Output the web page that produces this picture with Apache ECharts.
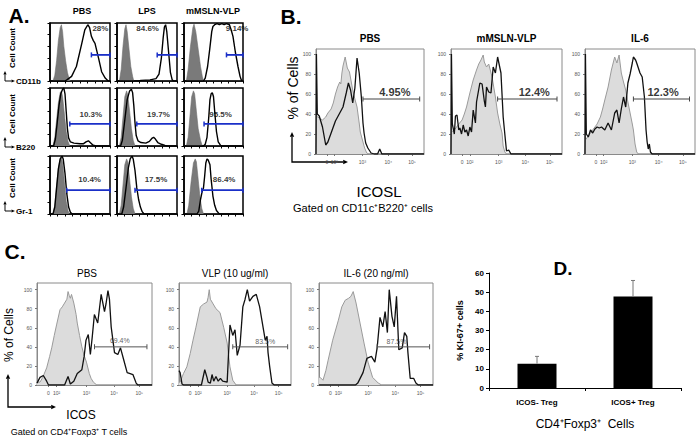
<!DOCTYPE html>
<html><head><meta charset="utf-8">
<script src="https://cdn.jsdelivr.net/npm/echarts@6/dist/echarts.min.js"></script>
<style>html,body{margin:0;padding:0;background:#fff}#c{width:698px;height:438px}</style>
</head><body><div id="c"></div>
<script>
// ================= DATA =================
// Panel A: flow histograms (x: fluorescence, 0-100 relative; y: % of max)
const A_conditions = ['PBS', 'LPS', 'mMSLN-VLP'];
const A_markers = ['CD11b', 'B220', 'Gr-1'];
// isotype / unstained (grey) histograms, [row][column]
const A_ctrl_CD11b = [
  [[0,0],[5,0],[8,10],[11,35],[14,70],[17,92],[19,97],[21,85],[23,60],[26,35],[29,15],[32,3],[34,0],[100,0]],
  [[0,0],[4,0],[7,20],[10,60],[13,90],[15,97],[17,85],[20,55],[23,25],[26,8],[28,0],[100,0]],
  [[0,0],[4,0],[7,20],[11,60],[15,92],[17,98],[20,85],[24,55],[28,25],[31,8],[33,0],[100,0]]
];
const A_stain_CD11b = [
  [[0,0],[25,0],[28,2],[36,8],[44,25],[53,65],[58,88],[63,97],[66,92],[69,77],[72,70],[75,65],[81,39],[86,16],[92,5],[97,0],[100,0]],
  [[0,0],[35,0],[40,1],[55,2],[65,4],[70,12],[74,40],[77,75],[79,93],[81,97],[83,85],[86,50],[89,15],[92,2],[94,0],[100,0]],
  [[0,0],[33,0],[36,5],[40,25],[43.5,54],[47,85],[49,94],[52,97],[56,99],[60,97],[64,99],[68,97],[72,99],[77,97],[80,88],[83,77],[87,50],[91.5,25],[95,8],[97,2],[99,0],[100,0]]
];
const A_ctrl_B220 = [
  [[0,0],[5,0],[8,15],[11,45],[14,75],[17,92],[19,95],[21,85],[24,55],[27,25],[30,8],[33,0],[100,0]],
  [[0,0],[4,0],[7,15],[10,50],[13,85],[16,95],[18,88],[21,60],[24,30],[27,10],[30,0],[100,0]],
  [[0,0],[4,0],[7,15],[10,50],[13,85],[16,95],[18,90],[21,60],[24,30],[28,10],[31,0],[100,0]]
];
const A_stain_B220 = [
  [[0,0],[6,0],[9,12],[12,40],[15,70],[18,90],[21,98],[23,100],[25,90],[27,60],[29,30],[31,14],[34,7],[40,5],[50,4],[56,4],[60,7],[64,9],[67,6],[71,2],[76,0],[100,0]],
  [[0,0],[6,0],[9,10],[13,45],[17,80],[21,95],[24,98],[26,92],[28,70],[30,40],[32,18],[35,9],[40,6],[48,5],[54,8],[58,13],[61,15],[64,12],[68,6],[74,3],[80,1],[84,0],[100,0]],
  [[0,0],[33,0],[36,3],[39,15],[42,50],[44,80],[46,90],[48,92],[50,85],[52,60],[55,25],[58,7],[62,1],[65,0],[100,0]]
];
const A_ctrl_Gr1 = [
  [[0,0],[5,0],[8,15],[11,50],[14,80],[17,95],[19,97],[21,88],[24,55],[27,22],[30,6],[32,0],[100,0]],
  [[0,0],[4,0],[7,15],[10,50],[13,85],[16,95],[18,90],[21,60],[24,30],[27,10],[30,0],[100,0]],
  [[0,0],[5,0],[8,15],[12,55],[16,88],[19,95],[21,90],[24,60],[27,30],[30,10],[33,0],[100,0]]
];
const A_stain_Gr1 = [
  [[0,0],[5,0],[8,12],[11,45],[14,78],[17,95],[20,100],[22,95],[25,70],[28,35],[31,12],[34,3],[37,0],[100,0]],
  [[0,0],[8,0],[11,12],[15,45],[19,80],[22,95],[25,100],[27,95],[30,75],[33,45],[36,25],[39,12],[42,4],[45,0],[100,0]],
  [[0,0],[22,0],[25,5],[28,25],[31,40],[33,45],[35,65],[37,88],[39,95],[41,93],[44,85],[46,60],[49,31],[52,15],[55,6],[59,1],[62,0],[100,0]]
];
const A_gate_start = [[69, 67, 72], [33, 33, 34], [28, 30, 30]];
const A_gate_level = [45, 38, 41];
const A_pct = [['28%', '84.6%', '9.14%'], ['10.3%', '19.7%', '95.5%'], ['10.4%', '17.5%', '86.4%']];
const A_pct_pos = [[[84, 91], [51, 91], [90, 91]], [[68, 54], [69, 54], [62, 54]], [[66, 60], [65, 60], [68, 60]]];

// Panel B: ICOSL on CD11c+B220+ cells
const B_conditions = ['PBS', 'mMSLN-VLP', 'IL-6'];
const B_ctrl = [
  [[0,0],[0.3,38],[3,36],[6,34],[9,37],[11,41],[14,45],[16,51],[18,60],[20,67],[22,72],[23,70],[24,81],[25,88],[27,97],[29,86],[31,82],[34,64],[36,55],[38,47],[40,31],[41,22],[43,14],[45,6],[47,1],[49,0],[100,0]],
  [[0,0],[0.3,22],[3,24],[7,30],[10,34],[12,40],[14,47],[17,61],[20,74],[23,84],[25,90],[27,94],[29,99],[30,92],[32,87],[34,90],[37,77],[40,57],[42,41],[44,30],[46,21],[47,8],[48.5,2],[50,0],[100,0]],
  [[0,0],[0.3,14],[3,18],[7,24],[11,30],[14,37],[16,45],[18,54],[21,67],[24,84],[27,97],[29,91],[31,99],[33,81],[35,72],[37,64],[39,52],[41,41],[43,30],[44,24],[45.5,10],[47,2],[48.5,0],[100,0]]
];
const B_stain = [
  [[0,0],[0.4,100],[1.2,40],[3,38],[6,27],[8,15],[9,9],[11,12],[15,24],[18,33],[22,41],[25,47],[28,61],[30,71],[32,64],[34,51],[36,66],[38,96],[40,81],[42,57],[43.5,31],[44.5,21],[46,11],[48,6],[51,1],[54,0],[57,0],[59,5],[61,0],[100,0]],
  [[0,0],[0.4,100],[1.2,30],[3,20],[4,38],[5.4,39],[7,24],[8,26],[9.5,20],[11,29],[12.5,22],[14,24],[15.5,18],[17,27],[18.5,22],[20,44],[22,31],[23,52],[26,71],[28,70],[30,53],[31,47],[32,67],[34,62],[36,61],[38,87],[40,81],[42,97],[45,81],[47,37],[49,14],[50,3],[52,4],[54,0],[100,0]],
  [[0,0],[0.4,100],[1.2,20],[3,17],[5,24],[7,21],[9,25],[11,27],[13,26],[15,27],[18,24],[21,31],[24,24],[27,41],[29,44],[31,31],[33,45],[35,57],[37,47],[39,71],[41,80],[43,91],[44,97],[46,94],[47,91],[50,81],[52,77],[54,57],[55.5,24],[56.5,12],[57.5,5],[58.5,10],[59.5,2],[61,0],[100,0]]
];
const B_gate = [[43.5, 96], [42, 95.5], [44, 95]];
const B_gate_level = 55;
const B_pct = ['4.95%', '12.4%', '12.3%'];
const B_pct_pos = [[73, 62], [75, 62], [71, 62]];

// Panel C: ICOS on CD4+Foxp3+ T cells
const C_conditions = ['PBS', 'VLP (10 ug/ml)', 'IL-6 (20 ng/ml)'];
const C_ctrl = [
  [[0,3],[2.6,3],[5,8],[8.4,18],[11,30],[12.8,39],[15,52],[17,63],[20,79],[22,82],[24,86],[26,90],[27,98],[28,94],[29,91],[30,95],[32,86],[34,74],[35,65],[37,52],[39,40],[41,31],[43,24],[45.5,12],[47,7],[49,3],[52,0],[100,0]],
  [[0,3],[1,3],[4,12],[7,19],[10,33],[12.5,47],[15,60],[19,82],[22,85],[25,87],[26,92],[27,100],[28,90],[30,86],[33,80],[36.6,76],[40,60],[43,44],[45.5,19],[48,5],[51,0],[100,0]],
  [[0,8],[1,8],[3.5,5],[6,15],[8,26],[12,47],[17,68],[20,82],[23,89],[26,91],[28,93],[30,98],[32.5,86],[36,65],[39.5,44],[43,24],[47,8],[52,2],[55,0],[100,0]]
];
const C_stain = [
  [[0,2],[2.6,8],[5.5,10],[8.4,4],[10,0],[24,0],[27,9],[29,1],[32,4],[35,12],[39,16],[41,30],[42.6,47],[44.6,53],[46.4,32],[48,50],[49.9,74],[52.8,65],[55.8,95],[58.7,77],[60,85],[61.7,99],[63,90],[64.5,61],[67.4,34],[70.3,32],[72.6,39],[75.5,26],[78.4,13],[81,12],[83.4,11],[86.2,2],[87.7,0],[100,0]],
  [[0,15],[1,13],[2.7,1],[4,0],[20,0],[23,16],[25,8],[26,3],[28,2],[29.5,11],[31,4],[33,9],[35,4],[37,7],[39,4],[43,3],[45.5,63],[48,52],[50,58],[52,31],[54.5,42],[57,82],[59,90],[61,100],[63,88],[66,93],[69,95],[72,82],[75,61],[77,47],[78.6,51],[79.5,34],[81,19],[83,2],[85,0],[100,0]],
  [[0,0],[32,0],[34,2],[38.6,13],[42,28],[44,29],[46,30],[49,24],[51,39],[53.5,71],[56,61],[58,77],[60,55],[61.6,100],[64,72],[66,61],[68,93],[70,37],[73,39],[75,55],[77,51],[78,34],[80,7],[83,7],[85,2],[87,0],[100,0]]
];
const C_gate = [[50, 95.6], [48, 97], [51, 97]];
const C_gate_level = 40;
const C_pct = ['69.4%', '83.5%', '87.5%'];
const C_pct_pos = [[72, 47], [77, 46], [68, 46]];

// shared log-axis ticks for B and C
const logTickPos = [10, 17, 43, 67, 89];
const logTickText = ['0', '10²', '10³', '10⁴', '10⁵'];
const pctTicks = [0, 20, 40, 60, 80, 100];

// Panel D: % Ki-67+ cells
const D_categories = ['ICOS- Treg', 'ICOS+ Treg'];
const D_values = [12.7, 47.8];
const D_sem = [3.8, 8.3];

// ================= LAYOUT =================
const FONT = '"Liberation Sans", Arial, sans-serif';
const grids = [], xAxes = [], yAxes = [], series = [];

function addGrid(g, xa, ya) {
  grids.push(g);
  const i = grids.length - 1;
  xAxes.push(Object.assign({ gridIndex: i }, xa));
  yAxes.push(Object.assign({ gridIndex: i }, ya));
  return i;
}
function histSeries(i, data, ctrl, style) {
  const s = {
    type: 'line', xAxisIndex: i, yAxisIndex: i, data: data, symbol: 'none', silent: true,
    lineStyle: { color: style.line, width: style.width }, z: ctrl ? 2 : 3
  };
  if (ctrl) s.areaStyle = { color: style.fill, opacity: 1 };
  series.push(s);
}
function gateSeries(i, s, e, lvl, color, w, cap) {
  series.push({
    type: 'line', xAxisIndex: i, yAxisIndex: i, data: [[s, lvl], [e, lvl]], silent: true,
    symbol: 'rect', symbolSize: cap, lineStyle: { color: color, width: w }, itemStyle: { color: color }, z: 4
  });
}
function labelSeries(i, pos, text, font) {
  series.push({
    type: 'scatter', xAxisIndex: i, yAxisIndex: i, data: [pos], symbolSize: 1, silent: true,
    itemStyle: { color: 'rgba(0,0,0,0)' }, z: 5,
    label: Object.assign({ show: true, position: 'inside', formatter: text, color: '#000', fontFamily: FONT }, font)
  });
}

// ---- Panel A ----
const A_colLeft = [50, 117, 184], A_colW = [60, 60, 59];
const A_rowTop = [23, 88, 156], A_rowH = 58;
const A_ctrl = [A_ctrl_CD11b, A_ctrl_B220, A_ctrl_Gr1];
const A_stain = [A_stain_CD11b, A_stain_B220, A_stain_Gr1];
for (let r = 0; r < 3; r++) for (let c = 0; c < 3; c++) {
  const i = addGrid(
    { left: A_colLeft[c], top: A_rowTop[r], width: A_colW[c], height: A_rowH, show: true, borderColor: '#000', borderWidth: 1.5 },
    { type: 'value', min: 0, max: 100, interval: 12.5, axisLine: { show: true, onZero: false, lineStyle: { color: '#000', width: 1.5 } },
      axisTick: { show: true, length: 2.5, lineStyle: { color: '#000' } }, axisLabel: { show: false }, splitLine: { show: false } },
    { type: 'value', min: 0, max: 100, interval: 20, axisLine: { show: true, onZero: false, lineStyle: { color: '#000', width: 1.5 } },
      axisTick: { show: true, length: 2.5, lineStyle: { color: '#000' } }, axisLabel: { show: false }, splitLine: { show: false } }
  );
  histSeries(i, A_ctrl[r][c], true, { line: '#6f6f6f', width: 0.6, fill: '#7a7a7a' });
  histSeries(i, A_stain[r][c], false, { line: '#000', width: 1.4 });
  gateSeries(i, A_gate_start[r][c], 100, A_gate_level[r], '#1a2fc8', 1.8, [1.5, 5]);
  labelSeries(i, A_pct_pos[r][c], A_pct[r][c], { fontSize: 8, fontWeight: 'bold' });
}

// ---- Panel B ----
const B_left = [316, 451, 585], B_w = [108, 111, 110];
for (let c = 0; c < 3; c++) {
  const i = addGrid(
    { left: B_left[c], top: 49, width: B_w[c], height: 105, show: true, borderColor: '#8a8a8a', borderWidth: 1 },
    { type: 'value', min: 0, max: 100, axisLine: { show: true, onZero: false, lineStyle: { color: '#8a8a8a' } },
      axisTick: { show: true, length: 2, customValues: logTickPos, lineStyle: { color: '#777' } },
      axisLabel: { show: true, customValues: logTickPos, fontSize: 5, color: '#555', margin: 5, fontFamily: FONT,
        formatter: v => logTickText[logTickPos.indexOf(v)] || '' }, splitLine: { show: false } },
    { type: 'value', min: 0, max: 105, axisLine: { show: true, onZero: false, lineStyle: { color: '#8a8a8a' } },
      axisTick: { show: true, length: 2, customValues: pctTicks, lineStyle: { color: '#777' } },
      axisLabel: { show: true, customValues: pctTicks, fontSize: 5, color: '#555', margin: 5, fontFamily: FONT }, splitLine: { show: false } }
  );
  histSeries(i, B_ctrl[c], true, { line: '#9a9a9a', width: 1, fill: '#dcdcdc' });
  histSeries(i, B_stain[c], false, { line: '#111', width: 1.3 });
  gateSeries(i, B_gate[c][0], B_gate[c][1], B_gate_level, '#444', 1.2, [1, 5]);
  labelSeries(i, B_pct_pos[c], B_pct[c], { fontSize: 11, fontWeight: 'bold' });
}

// ---- Panel C ----
const C_left = [37, 179, 319], C_w = [115, 112, 114];
for (let c = 0; c < 3; c++) {
  const i = addGrid(
    { left: C_left[c], top: 283, width: C_w[c], height: 102, show: true, borderColor: '#8a8a8a', borderWidth: 1 },
    { type: 'value', min: 0, max: 100, axisLine: { show: true, onZero: false, lineStyle: { color: '#8a8a8a' } },
      axisTick: { show: true, length: 2, customValues: logTickPos, lineStyle: { color: '#777' } },
      axisLabel: { show: true, customValues: logTickPos, fontSize: 5, color: '#555', margin: 5, fontFamily: FONT,
        formatter: v => logTickText[logTickPos.indexOf(v)] || '' }, splitLine: { show: false } },
    { type: 'value', min: 0, max: 107, axisLine: { show: true, onZero: false, lineStyle: { color: '#8a8a8a' } },
      axisTick: { show: true, length: 2, customValues: pctTicks, lineStyle: { color: '#777' } },
      axisLabel: { show: true, customValues: pctTicks, fontSize: 5, color: '#555', margin: 5, fontFamily: FONT }, splitLine: { show: false } }
  );
  histSeries(i, C_ctrl[c], true, { line: '#9a9a9a', width: 1, fill: '#dcdcdc' });
  histSeries(i, C_stain[c], false, { line: '#111', width: 1.3 });
  gateSeries(i, C_gate[c][0], C_gate[c][1], C_gate_level, '#555', 1, [1, 5]);
  labelSeries(i, C_pct_pos[c], C_pct[c], { fontSize: 7, color: '#333' });
}

// ---- Panel D ----
const dI = addGrid(
  { left: 489, top: 273, width: 192, height: 115, show: false },
  { type: 'category', data: D_categories, axisLine: { show: true, lineStyle: { color: '#000', width: 1 } },
    axisTick: { show: true, alignWithLabel: false, length: 3, lineStyle: { color: '#000' } },
    axisLabel: { fontSize: 8, fontWeight: 'bold', color: '#000', margin: 10, fontFamily: FONT },
    name: 'CD4⁺Foxp3⁺  Cells', nameLocation: 'middle', nameGap: 30, nameTextStyle: { fontSize: 12, color: '#000', fontFamily: FONT } },
  { type: 'value', min: 0, max: 60, interval: 10, axisLine: { show: true, lineStyle: { color: '#000', width: 1 } },
    axisTick: { show: true, length: 3, lineStyle: { color: '#000' } },
    axisLabel: { fontSize: 8, fontWeight: 'bold', color: '#000', margin: 5, fontFamily: FONT }, splitLine: { show: false },
    name: '% KI-67+ cells', nameLocation: 'middle', nameGap: 25, nameRotate: 90,
    nameTextStyle: { fontSize: 9, fontWeight: 'bold', color: '#000', fontFamily: FONT } }
);
series.push({ type: 'bar', xAxisIndex: dI, yAxisIndex: dI, data: D_values, barWidth: 39, itemStyle: { color: '#000' }, silent: true });
series.push({
  type: 'custom', xAxisIndex: dI, yAxisIndex: dI, silent: true, z: 5,
  data: D_values.map((v, k) => [k, v, v + D_sem[k]]),
  encode: { x: 0, y: [1, 2] },
  renderItem: (params, api) => {
    const b = api.coord([api.value(0), api.value(1)]);
    const t = api.coord([api.value(0), api.value(2)]);
    return { type: 'group', children: [
      { type: 'line', shape: { x1: b[0], y1: b[1], x2: t[0], y2: t[1] }, style: { stroke: '#777', lineWidth: 1 } },
      { type: 'line', shape: { x1: t[0] - 2, y1: t[1], x2: t[0] + 2, y2: t[1] }, style: { stroke: '#777', lineWidth: 1 } }
    ] };
  }
});

// ---- Texts and arrows ----
function txt(text, x, y, font, opts) {
  return Object.assign({ type: 'text', x: x, y: y, silent: true,
    style: { text: text, font: font, fill: '#000', align: 'center', verticalAlign: 'middle' } }, opts || {});
}
function arrowL(x0, y0, up, right, w) {
  const h = w * 2.2;
  return [
    { type: 'polyline', silent: true, shape: { points: [[x0, y0 - up + h], [x0, y0], [x0 + right - h, y0]] }, style: { stroke: '#000', lineWidth: w * 0.6, fill: null } },
    { type: 'polygon', silent: true, shape: { points: [[x0 - w, y0 - up + h], [x0 + w, y0 - up + h], [x0, y0 - up]] }, style: { fill: '#000' } },
    { type: 'polygon', silent: true, shape: { points: [[x0 + right - h, y0 - w], [x0 + right - h, y0 + w], [x0 + right, y0]] }, style: { fill: '#000' } }
  ];
}
const graphics = [];
const bold = s => 'bold ' + s + 'px ' + FONT;
const reg = s => s + 'px ' + FONT;
graphics.push(txt('A.', 19, 15, bold(21)));
graphics.push(txt('B.', 291, 16, bold(21)));
graphics.push(txt('C.', 15, 251, bold(21)));
graphics.push(txt('D.', 563, 268, bold(19)));
const A_headerX = [82, 147, 213];
A_conditions.forEach((t, c) => graphics.push(txt(t, A_headerX[c], 11, bold(9))));
const A_rowBase = [81, 147, 211];
A_markers.forEach((m, r) => {
  graphics.push(txt('Cell Count', 12, A_rowBase[r] - 33, bold(8), { rotation: Math.PI / 2 }));
  arrowL(5, A_rowBase[r], 10, 10, 1.6).forEach(g => graphics.push(g));
  graphics.push(Object.assign(txt(m, 16, A_rowBase[r], bold(8)), {}));
  graphics[graphics.length - 1].style.align = 'left';
});
B_conditions.forEach((t, c) => graphics.push(txt(t, B_left[c] + B_w[c] / 2, 38, bold(10))));
graphics.push(txt('% of Cells', 293, 88, reg(14), { rotation: Math.PI / 2 }));
arrowL(292, 162, 30, 56, 2.2).forEach(g => graphics.push(g));
graphics.push(txt('ICOSL', 379, 191, reg(15)));
graphics.push(txt('Gated on CD11c⁺B220⁺ cells', 363, 208, reg(11)));
const C_headerX = [87, 235, 376];
C_conditions.forEach((t, c) => graphics.push(txt(t, C_headerX[c], 273, reg(10))));
graphics.push(txt('% of Cells', 9, 335, reg(12), { rotation: Math.PI / 2 }));
arrowL(8, 407, 33, 48, 2.2).forEach(g => graphics.push(g));
graphics.push(txt('ICOS', 81, 415, reg(12)));
graphics.push(txt('Gated on CD4⁺Foxp3⁺ T cells', 69, 432, reg(9)));

const chart = echarts.init(document.getElementById('c'), null, { renderer: 'svg' });
chart.setOption({
  animation: false,
  backgroundColor: '#fff',
  grid: grids, xAxis: xAxes, yAxis: yAxes, series: series,
  graphic: { elements: graphics }
});
</script></body></html>
